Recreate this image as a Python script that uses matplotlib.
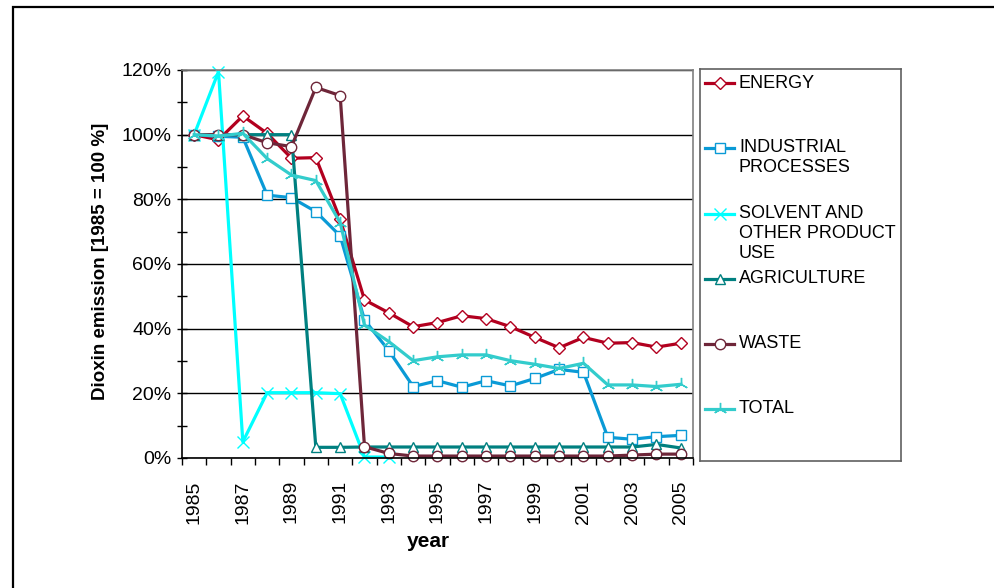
import matplotlib
matplotlib.use('Agg')
import matplotlib.pyplot as plt
import numpy as np
from matplotlib.patches import Rectangle

plt.rcParams['font.family'] = ['Liberation Sans', 'DejaVu Sans']

years = list(range(1985, 2006))

energy = [100, 98.4, 105.8, 100.4, 92.7, 92.9, 73.8, 48.9, 44.9, 40.6, 41.9, 44.0,
          43.1, 40.6, 37.3, 34.1, 37.3, 35.5, 35.7, 34.3, 35.5]
industrial = [100, 99.5, 99.2, 81.3, 80.5, 76.2, 68.7, 42.7, 33.2, 22.1, 23.9, 21.9,
              23.9, 22.3, 24.6, 27.4, 26.5, 6.4, 5.8, 6.6, 7.0]
solvent = [100, 119.5, 5.0, 20.2, 20.2, 20.2, 19.9, 0.3, 0.3, np.nan, np.nan, np.nan,
           np.nan, np.nan, np.nan, np.nan, np.nan, np.nan, np.nan, np.nan, np.nan]
agriculture = [100, 100, 100, 100, 100, 3.3, 3.3, 3.4, 3.4, 3.4, 3.4, 3.4,
               3.4, 3.4, 3.4, 3.4, 3.4, 3.4, 3.4, 4.2, 3.1]
waste = [100, 100, 100, 97.5, 96.3, 114.6, 112.1, 3.5, 1.4, 0.6, 0.6, 0.6,
         0.6, 0.6, 0.6, 0.6, 0.6, 0.6, 0.9, 1.2, 1.2]
total = [100, 99.6, 100.4, 92.6, 87.5, 85.8, 72.8, 41.1, 36.0, 30.1, 31.3, 31.9,
         31.9, 30.1, 29.0, 27.7, 29.3, 22.6, 22.6, 22.1, 22.8]

series_names = [['ENERGY'], ['INDUSTRIAL', 'PROCESSES'], ['SOLVENT AND', 'OTHER PRODUCT', 'USE'],
                ['AGRICULTURE'], ['WASTE'], ['TOTAL']]
series_data = [energy, industrial, solvent, agriculture, waste, total]
colors = ['#B2001F', '#0A9AD6', '#00FFFF', '#008080', '#6E2639', '#33CCCC']
markers = ['D', 's', 'x', '^', 'o', (3, 2, 0)]
msizes = [6.5, 6.5, 9, 6.5, 7.5, 9.5]
faces = ['white', 'white', 'none', 'white', 'white', 'none']

fig = plt.figure(figsize=(9.95, 5.88), dpi=100)

# outer chart frame (only left/top visible in the picture)
fig.patches.append(Rectangle((13 / 995, -0.2), 1.5, 1.2 - 7 / 588, transform=fig.transFigure,
                             fill=False, edgecolor='black', linewidth=1.6))

ax = fig.add_axes([182 / 995, 1 - 458 / 588, 511 / 995, 388 / 588])
x = np.arange(len(years))

for data, c, m, ms, fc in zip(series_data, colors, markers, msizes, faces):
    ax.plot(x, data, color=c, linewidth=2.3, marker=m, markersize=ms,
            markerfacecolor=fc, markeredgecolor=c, markeredgewidth=1.0, clip_on=False)

ax.set_xlim(-0.5, len(years) - 0.5)
ax.set_ylim(0, 120)

ax.set_yticks(np.arange(0, 121, 20))
ax.set_yticklabels([f'{v}%' for v in range(0, 121, 20)], fontsize=14)
ax.set_yticks(np.arange(0, 121, 10), minor=True)
ax.tick_params(axis='y', which='both', direction='inout', length=7, width=1, pad=4)

ax.set_xticks(np.arange(-0.5, len(years), 1))
ax.set_xticklabels([])
ax.set_xticks(x[::2], minor=True)
ax.set_xticklabels([str(y) for y in years[::2]], minor=True, rotation=90, fontsize=14)
ax.tick_params(axis='x', which='major', direction='out', length=5, width=1)
ax.tick_params(axis='x', which='minor', length=0, pad=16)

ax.yaxis.grid(True, which='major', color='black', linewidth=1)
ax.set_axisbelow(True)
for s in ['top', 'right']:
    ax.spines[s].set_color('#808080')
    ax.spines[s].set_linewidth(1.2)
for s in ['left', 'bottom']:
    ax.spines[s].set_color('black')
    ax.spines[s].set_linewidth(1.2)

ax.set_ylabel('Dioxin emission [1985 = 100 %]', fontsize=13.5, fontweight='bold')
ax.yaxis.set_label_coords(-0.142, 0.508)
ax.set_xlabel('year', fontsize=15, fontweight='bold')
ax.xaxis.set_label_coords(0.482, -0.19)

# legend box drawn by hand so handles line up with the first text line
lg = fig.add_axes([700 / 995, 1 - 461 / 588, 201 / 995, 392 / 588])
lg.set_xlim(0, 201)
lg.set_ylim(461, 69)
lg.set_xticks([])
lg.set_yticks([])
for s in lg.spines.values():
    s.set_color('#606060')
    s.set_linewidth(1.2)

entry_y = [83, 148, 214, 279, 344, 409]
for ey, names, c, m, ms, fc in zip(entry_y, series_names, colors, markers, msizes, faces):
    lg.plot([5, 34], [ey, ey], color=c, linewidth=2.3)
    lg.plot([19.5], [ey], color=c, marker=m, markersize=ms, markerfacecolor=fc,
            markeredgecolor=c, markeredgewidth=1.0)
    for k, nm in enumerate(names):
        lg.text(39, ey + k * 20, nm, fontsize=13, va='center', ha='left')

fig.savefig('out.png', dpi=100)
